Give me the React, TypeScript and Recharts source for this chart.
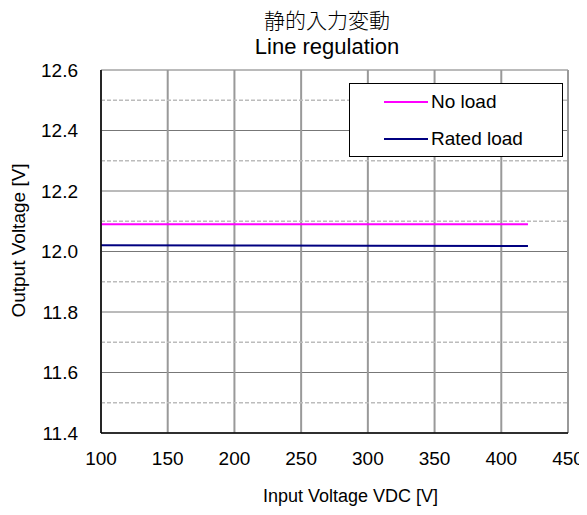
import React from 'react';
import {
  LineChart,
  Line,
  XAxis,
  YAxis,
  CartesianGrid,
  ReferenceLine,
  Label,
} from 'recharts';

const inputVoltage = [100, 200, 300, 420];
const noLoad = [12.09, 12.09, 12.09, 12.09];
const ratedLoad = [12.021, 12.02, 12.019, 12.018];

const xTicks = [100, 150, 200, 250, 300, 350, 400, 450];
const yTicks = [11.4, 11.6, 11.8, 12.0, 12.2, 12.4, 12.6];
const yMinorTicks = [11.5, 11.7, 11.9, 12.1, 12.3, 12.5];

const seriesInfo = [
  { key: 'noLoad', name: 'No load', color: '#ff00ff' },
  { key: 'ratedLoad', name: 'Rated load', color: '#000080' },
];

const FONT = '"Liberation Sans", Arial, sans-serif';

const chartData = inputVoltage.map((v, i) => ({
  vin: v,
  noLoad: noLoad[i],
  ratedLoad: ratedLoad[i],
}));

function LegendBox() {
  return (
    <div
      style={{
        position: 'absolute',
        left: 349,
        top: 83,
        width: 214,
        height: 74,
        border: '1px solid #000',
        background: '#fff',
        boxSizing: 'border-box',
        fontFamily: FONT,
        fontSize: 19,
        color: '#000',
      }}
    >
      {seriesInfo.map((s, i) => (
        <div
          key={s.key}
          style={{
            position: 'absolute',
            left: 34,
            top: i === 0 ? 6 : 43,
            height: 24,
            display: 'flex',
            alignItems: 'center',
            whiteSpace: 'nowrap',
          }}
        >
          <span
            style={{
              display: 'inline-block',
              width: 44,
              height: 2,
              background: s.color,
              marginRight: 3,
            }}
          />
          <span>{s.name}</span>
        </div>
      ))}
    </div>
  );
}

const YTitle = ({ viewBox }: any) => {
  const cx = viewBox.x + 18;
  const cy = viewBox.y + viewBox.height / 2 - 11;
  return (
    <text
      x={cx}
      y={cy}
      transform={`rotate(-90, ${cx}, ${cy})`}
      textAnchor="middle"
      dominantBaseline="central"
      fill="#000"
      fontSize={19}
      fontFamily={FONT}
    >
      Output Voltage [V]
    </text>
  );
};

// the axis title sits a little right of the plot centre in the original
const XTitle = ({ viewBox }: any) => (
  <text
    x={viewBox.x + viewBox.width / 2 + 16}
    y={502}
    textAnchor="middle"
    fill="#000"
    fontSize={18}
    fontFamily={FONT}
  >
    Input Voltage VDC [V]
  </text>
);

export default function App() {
  return (
    <div
      style={{
        position: 'relative',
        width: 587,
        height: 515,
        margin: -8,
        background: '#fff',
        overflow: 'hidden',
      }}
    >
      <div
        style={{
          position: 'absolute',
          top: 6,
          left: 227,
          width: 200,
          textAlign: 'center',
          fontFamily: '"Noto Sans CJK JP", sans-serif',
          fontSize: 21,
          fontWeight: 300,
          lineHeight: '26px',
          color: '#000',
        }}
      >
        静的入力変動
      </div>
      <div
        style={{
          position: 'absolute',
          top: 36,
          left: 227,
          width: 200,
          textAlign: 'center',
          fontFamily: FONT,
          fontSize: 22,
          lineHeight: '22px',
          color: '#000',
        }}
      >
        Line regulation
      </div>
      <LineChart
        width={587}
        height={515}
        data={chartData}
        margin={{ top: 70, right: 19, bottom: 0, left: 0 }}
        style={{ fontFamily: FONT }}
      >
        <CartesianGrid vertical={false} stroke="#777" strokeWidth={1} />
        <CartesianGrid horizontal={false} stroke="#999" strokeWidth={2} />
        {yMinorTicks.map(t => (
          <ReferenceLine key={t} y={t} stroke="#bcbcbc" strokeDasharray="4 2" strokeWidth={1.5} />
        ))}
        <XAxis
          dataKey="vin"
          type="number"
          domain={[100, 450]}
          ticks={xTicks}
          height={82}
          tickLine={false}
          tickSize={0}
          tickMargin={19}
          axisLine={{ stroke: '#000', strokeWidth: 1.5 }}
          tick={{ fill: '#000', fontSize: 19 }}
        >
          <Label content={XTitle} />
        </XAxis>
        <YAxis
          type="number"
          domain={[11.4, 12.6]}
          ticks={yTicks}
          width={101}
          tickLine={false}
          tickSize={0}
          tickMargin={23}
          tickFormatter={v => v.toFixed(1)}
          axisLine={{ stroke: '#000', strokeWidth: 1.5 }}
          tick={{ fill: '#000', fontSize: 19 }}
        >
          <Label content={YTitle} />
        </YAxis>
        {seriesInfo.map(s => (
          <Line
            key={s.key}
            type="linear"
            dataKey={s.key}
            name={s.name}
            stroke={s.color}
            strokeWidth={2}
            dot={false}
            isAnimationActive={false}
          />
        ))}
      </LineChart>
      <LegendBox />
    </div>
  );
}
